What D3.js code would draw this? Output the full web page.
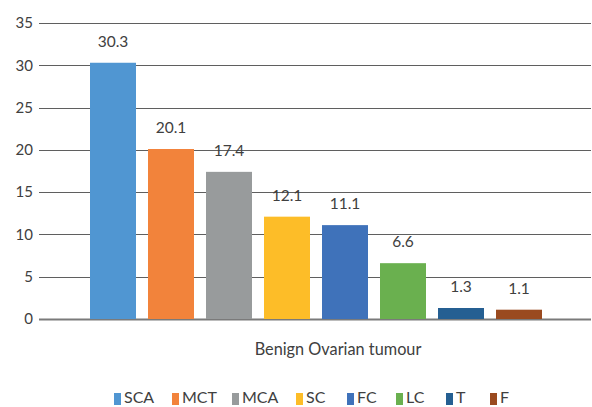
<html>
<head>
  <meta charset="utf-8">
  <style>
    body { margin: 0; background: #fff; }
    text { font-family: Lato, "Open Sans", sans-serif; }
  </style>
</head>
<body>
  <script src="https://d3js.org/d3.v7.min.js"></script>
  <script>
    // 数据
    var series = ["SCA", "MCT", "MCA", "SC", "FC", "LC", "T", "F"]
    var values = [30.3, 20.1, 17.4, 12.1, 11.1, 6.6, 1.3, 1.1]
    var colors = ["#5096d2", "#f2833b", "#989b9c", "#fdbd28", "#3f72ba", "#6ab04f", "#255f92", "#9a4a1f"]
    var yTicks = [0, 5, 10, 15, 20, 25, 30, 35]
    var category = "Benign Ovarian tumour"

    var width = 592, height = 407
    var svg = d3.select("body").append("svg")
      .attr("width", width)
      .attr("height", height)

    var plotLeft = 39, plotRight = 591
    var y = d3.scaleLinear().domain([0, 35]).range([319, 23])
    var x = d3.scaleBand().domain(series).range([84, 548])
      .paddingInner(0.207).paddingOuter(0.1035)

    // 网格线
    svg.append("g").selectAll("line")
      .data(yTicks)
      .enter().append("line")
      .attr("x1", plotLeft).attr("x2", plotRight)
      .attr("y1", d => Math.round(y(d)) + 0.5)
      .attr("y2", d => Math.round(y(d)) + 0.5)
      .attr("stroke", d => d == 0 ? "#7a7a7a" : "#5f5f5f")
      .attr("stroke-width", d => d == 0 ? 2 : 1)

    // y轴刻度
    svg.append("g").selectAll("text")
      .data(yTicks)
      .enter().append("text")
      .attr("x", 33)
      .attr("y", d => y(d))
      .attr("dy", "0.35em")
      .attr("text-anchor", "end")
      .attr("font-size", 15)
      .attr("fill", "#404040")
      .text(d => d)

    // 柱子
    svg.append("g").selectAll("rect")
      .data(values)
      .enter().append("rect")
      .attr("x", (d, i) => x(series[i]))
      .attr("width", x.bandwidth())
      .attr("y", d => y(d))
      .attr("height", d => y(0) - y(d))
      .attr("fill", (d, i) => colors[i])

    // 数值标签
    svg.append("g").selectAll("text")
      .data(values)
      .enter().append("text")
      .attr("x", (d, i) => x(series[i]) + x.bandwidth() / 2)
      .attr("y", d => y(d) - 16)
      .attr("text-anchor", "middle")
      .attr("font-size", 15.5)
      .attr("fill", "#404040")
      .text(d => d.toFixed(1))

    // 分类标签
    svg.append("text")
      .attr("x", 338)
      .attr("y", 355)
      .attr("text-anchor", "middle")
      .attr("font-size", 16.3)
      .attr("fill", "#404040")
      .text(category)

    // 图例
    var legendX = [114, 172, 232, 296, 347, 396, 446, 490]
    var legend = svg.append("g").selectAll("g")
      .data(series)
      .enter().append("g")
      .attr("transform", (d, i) => `translate(${legendX[i]},403)`)
    legend.append("rect")
      .attr("x", 0).attr("y", -10)
      .attr("width", 7).attr("height", 12)
      .attr("fill", (d, i) => colors[i])
    legend.append("text")
      .attr("x", 10)
      .attr("y", 0)
      .attr("font-size", 16)
      .attr("fill", "#404040")
      .text(d => d)
  </script>
</body>
</html>
